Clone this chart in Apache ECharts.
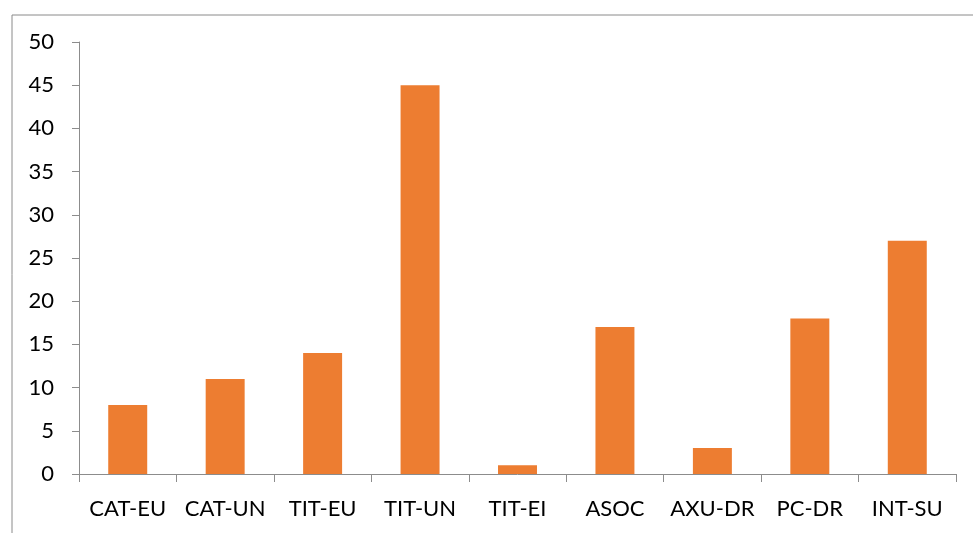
<!DOCTYPE html>
<html><head><meta charset="utf-8">
<script src="https://cdn.jsdelivr.net/npm/echarts@6/dist/echarts.min.js"></script>
<style>html,body{margin:0;padding:0;background:#fff}#c{width:973px;height:533px}</style>
</head><body><div id="c"></div>
<script>
const categories = ["CAT-EU","CAT-UN","TIT-EU","TIT-UN","TIT-EI","ASOC","AXU-DR","PC-DR","INT-SU"];
const values = [8, 11, 14, 45, 1, 17, 3, 18, 27];
const yTicks = [0, 5, 10, 15, 20, 25, 30, 35, 40, 45, 50];

const chart = echarts.init(document.getElementById('c'), null, {renderer:'canvas'});
const axisColor = '#8c8c8c';
chart.setOption({
  animation: false,
  backgroundColor: '#fff',
  graphic: [{
    type: 'rect', left: 9.5, top: 12.5, silent: true,
    shape: {x: 0, y: 0, width: 1000, height: 600},
    style: {fill: 'none', stroke: '#8a8a8a', lineWidth: 1}
  }],
  grid: {left: 79, right: 17, top: 42, bottom: 59, containLabel: false},
  xAxis: {
    type: 'category', data: categories,
    axisLine: {lineStyle: {color: axisColor, width: 1}},
    axisTick: {show: true, length: 8, alignWithLabel: false, lineStyle: {color: axisColor}},
    axisLabel: {color: '#000', fontFamily: 'Lato', fontSize: 22, margin: 24, interval: 0}
  },
  yAxis: {
    type: 'value', min: yTicks[0], max: yTicks[yTicks.length-1], interval: 5,
    axisLine: {show: true, lineStyle: {color: axisColor, width: 1}},
    axisTick: {show: true, length: 7, lineStyle: {color: axisColor}},
    splitLine: {show: false},
    axisLabel: {color: '#000', fontFamily: 'Lato', fontSize: 22, margin: 25}
  },
  series: [{
    type: 'bar', data: values, barWidth: '40%',
    itemStyle: {color: '#ED7D31'}
  }]
});
</script></body></html>
